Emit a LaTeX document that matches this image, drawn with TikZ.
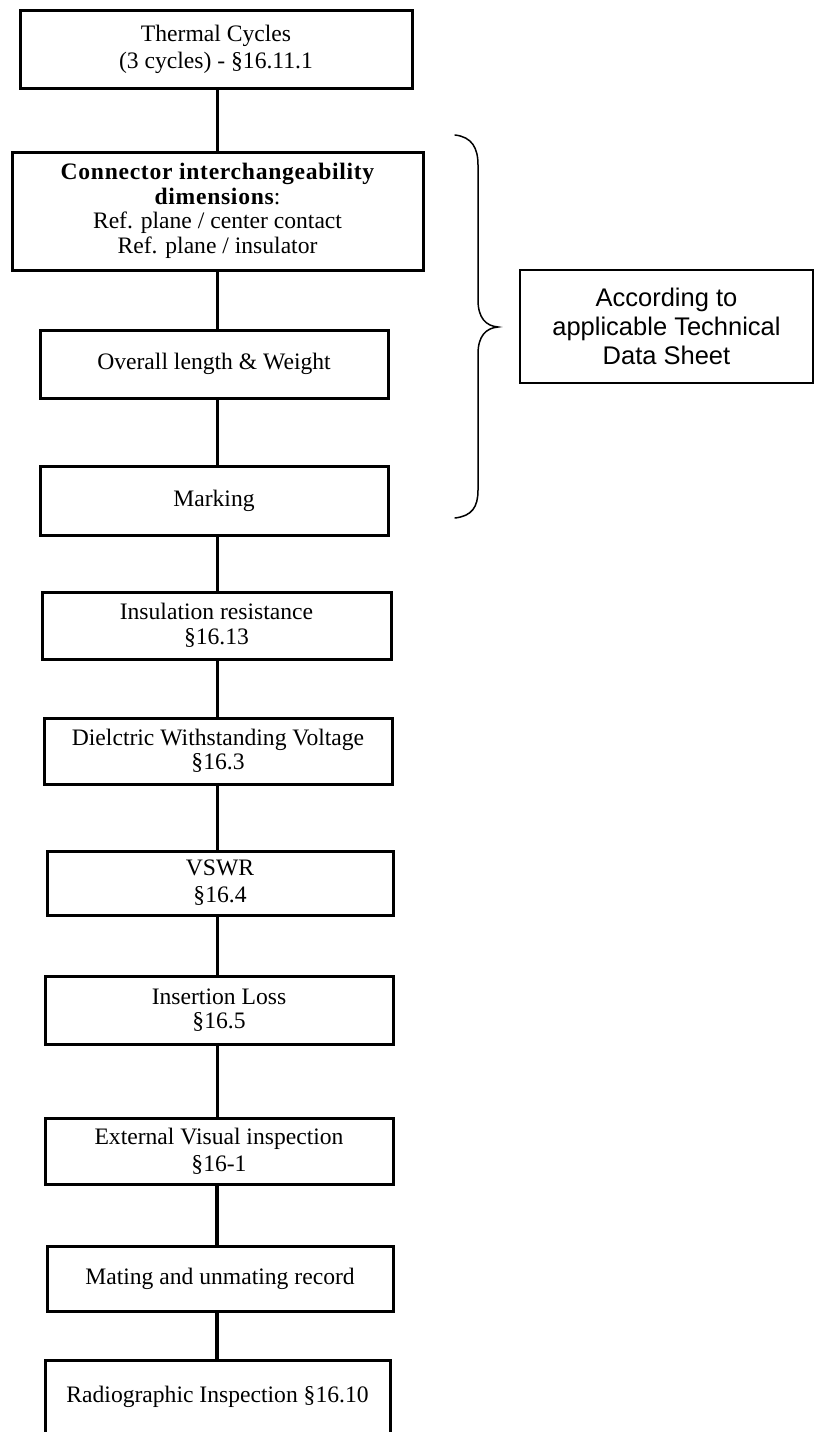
\documentclass[tikz,border=0pt]{standalone}
\usepackage{fontspec}
\setmainfont{Liberation Serif}
\newfontfamily\notefont{Liberation Sans}
\begin{document}
\begin{tikzpicture}[x=1pt,y=-1pt,
  stepbox/.style={draw, line width=3pt, rectangle, inner sep=0pt, align=center,
    font=\fontsize{23.6}{24.5}\selectfont},
  notebox/.style={draw, line width=1.3pt, rectangle, inner sep=0pt, align=center,
    font=\notefont\fontsize{25.5}{29}\selectfont},
  link/.style={line width=3pt},
  heavylink/.style={line width=4.5pt},
  brace/.style={line width=1.5pt, line cap=round}]
\useasboundingbox (0,0) rectangle (814,1432);
\clip (0,0) rectangle (814,1432);

% test sequence
\node[stepbox, minimum width=392pt, minimum height=78pt] (b1) at (216,49)
  {Thermal Cycles\\[2.5pt](3 cycles) - §16.11.1};
\node[stepbox, minimum width=411pt, minimum height=118pt] (b2) at (217.5,211)
  {{\bfseries\addfontfeatures{LetterSpace=3}Connector interchangeability}\\
   {\bfseries\addfontfeatures{LetterSpace=3}dimensions}:\\
   Ref. plane / center contact\\Ref. plane / insulator};
\node[stepbox, minimum width=348pt, minimum height=68pt] (b3) at (214,364)
  {Overall length \& Weight};
\node[stepbox, minimum width=348pt, minimum height=69pt] (b4) at (214,500.5)
  {Marking};
\node[stepbox, minimum width=349pt, minimum height=67pt] (b5) at (216.5,625.5)
  {Insulation resistance\\§16.13};
\node[stepbox, minimum width=348pt, minimum height=66pt] (b6) at (218,751)
  {Dielctric Withstanding Voltage\\§16.3};
\node[stepbox, minimum width=346pt, minimum height=64pt] (b7) at (220,883)
  {VSWR\\[2.5pt]§16.4};
\node[stepbox, minimum width=348pt, minimum height=68pt] (b8) at (219,1010)
  {Insertion Loss\\§16.5};
\node[stepbox, minimum width=348pt, minimum height=66pt] (b9) at (219,1151)
  {External Visual inspection\\[2.5pt]§16-1};
\node[stepbox, minimum width=346pt, minimum height=65pt] (b10) at (220,1278.5)
  {Mating and unmating record};
\node[stepbox, minimum width=345pt, minimum height=74pt] (b11) at (217.5,1397)
  {Radiographic Inspection §16.10};

% note on the grouped checks
\node[notebox, minimum width=293pt, minimum height=113pt] (note) at (666.5,326.5)
  {According to\\applicable Technical\\Data Sheet};

% vertical spine of the sequence
\coordinate (spine) at (217,0);
\draw[link] (spine |- b1.south) -- (spine |- b2.north);
\draw[link] (spine |- b2.south) -- (spine |- b3.north);
\draw[link] (spine |- b3.south) -- (spine |- b4.north);
\draw[link] (spine |- b4.south) -- (spine |- b5.north);
\draw[link] (spine |- b5.south) -- (spine |- b6.north);
\draw[link] (spine |- b6.south) -- (spine |- b7.north);
\draw[link] (spine |- b7.south) -- (spine |- b8.north);
\draw[link] (spine |- b8.south) -- (spine |- b9.north);
\draw[heavylink] (spine |- b9.south) -- (spine |- b10.north);
\draw[heavylink] (spine |- b10.south) -- (spine |- b11.north);

% curly brace grouping boxes 2 to 4
\draw[brace] (455,135) .. controls (472,137) and (478,148) .. (478,165)
  -- (478,300) .. controls (478,318) and (486,326) .. (498,327)
  .. controls (486,328) and (478,336) .. (478,354)
  -- (478,490) .. controls (478,507) and (472,516) .. (455,518);
\end{tikzpicture}
\end{document}
